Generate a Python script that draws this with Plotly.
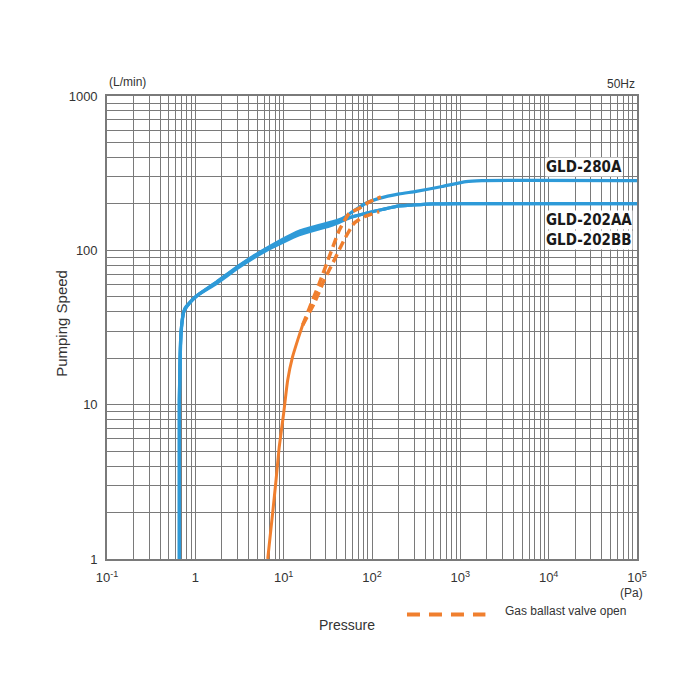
import plotly.graph_objects as go

# Pumping speed (L/min) vs pressure (Pa), 50Hz
p_280a = [0.66, 0.66, 0.69, 0.74, 0.86, 1.03, 1.74, 3.16, 6.4, 15, 35.8, 46.4, 60.2, 85.3, 120.6, 203, 316, 621, 1160, 1760, 100000]
s_280a = [1, 10.7, 30, 40, 45.5, 50.6, 62.3, 80, 103, 133, 153, 161, 178, 202, 217, 232, 241, 259, 279, 283, 283]

p_202aa = [0.66, 0.66, 0.69, 0.74, 0.86, 1.03, 1.74, 3.16, 6.4, 15, 35.8, 55.3, 85.3, 131, 203, 270, 491, 992, 100000]
s_202aa = [1, 10.7, 30, 40, 45.5, 50.6, 61, 78, 100, 126, 146, 162, 174, 184, 194, 196, 200, 201, 201]

p_202bb = [0.66, 0.66, 0.70, 0.76, 0.9, 1.1, 1.8, 3.2, 6.4, 15, 35.8, 55.3, 85.3, 131, 203, 270, 491, 992, 100000]
s_202bb = [1, 10.7, 32, 42, 47, 52, 63, 80, 102, 130, 149, 163, 174, 184, 194, 196, 200, 201, 201]

# gas ballast: common solid part, then two dashed branches
p_gb = [6.6, 7.5, 8.2, 8.9, 10.0, 11.1, 12.6, 14.4, 16.4]
s_gb = [1, 1.98, 3.25, 5.3, 8.8, 14.4, 20.4, 26.2, 32.8]

p_gb_hi = [16.4, 19.5, 25.3, 32.8, 42.6, 55.3, 71.7, 93, 126]
s_gb_hi = [32.8, 42.1, 61.1, 90.9, 135, 174, 187, 206, 222]

p_gb_lo = [16.4, 22.2, 28.8, 37.4, 48.4, 62.9, 81.5, 120.5]
s_gb_lo = [32.8, 45.4, 64.2, 86.5, 117, 150, 165, 178]

x_decades = [-1, 0, 1, 2, 3, 4, 5]
x_labels = ["10<sup>-1</sup>", "1", "10<sup>1</sup>", "10<sup>2</sup>", "10<sup>3</sup>", "10<sup>4</sup>", "10<sup>5</sup>"]
y_decades = [0, 1, 2, 3]
y_labels = ["1", "10", "100", "1000"]

BLUE = "#2e9ad8"
ORANGE = "#f07f2e"
GRID = "#7a7a7a"
FONT = "Liberation Sans, Arial, sans-serif"


def log_grid(decades, labels):
    vals, text = [], []
    for d, lab in zip(decades, labels):
        vals.append(10 ** d)
        text.append(lab)
        if d != decades[-1]:
            for m in range(2, 10):
                vals.append(m * 10 ** d)
                text.append("")
    return vals, text


xv, xt = log_grid(x_decades, x_labels)
yv, yt = log_grid(y_decades, y_labels)

fig = go.Figure()

for p, s in [(p_202bb, s_202bb), (p_202aa, s_202aa), (p_280a, s_280a)]:
    fig.add_trace(go.Scatter(x=p, y=s, mode="lines", line=dict(color=BLUE, width=3.2, shape="spline", smoothing=0.5),
                             showlegend=False))

fig.add_trace(go.Scatter(x=p_gb, y=s_gb, mode="lines", line=dict(color=ORANGE, width=3, shape="spline", smoothing=0.5),
                         showlegend=False))
for p, s in [(p_gb_hi, s_gb_hi), (p_gb_lo, s_gb_lo)]:
    fig.add_trace(go.Scatter(x=p, y=s, mode="lines",
                             line=dict(color=ORANGE, width=3.5, dash="9px,5px", shape="spline", smoothing=0.5),
                             showlegend=False))

fig.update_xaxes(type="log", range=[-1, 5], tickmode="array", tickvals=xv, ticktext=xt,
                 showgrid=True, gridcolor=GRID, gridwidth=1.4, zeroline=False,
                 showline=True, linecolor=GRID, linewidth=1.6, mirror=True,
                 ticks="outside", ticklen=6, tickcolor="rgba(0,0,0,0)",
                 tickfont=dict(family=FONT, size=13, color="#333"))
fig.update_yaxes(type="log", range=[0, 3], tickmode="array", tickvals=yv, ticktext=yt,
                 showgrid=True, gridcolor=GRID, gridwidth=1.4, zeroline=False,
                 showline=True, linecolor=GRID, linewidth=1.6, mirror=True,
                 ticks="outside", ticklen=5, tickcolor="rgba(0,0,0,0)",
                 tickfont=dict(family=FONT, size=13, color="#333"))

fig.add_annotation(text="Pumping Speed", xref="paper", yref="paper", x=-0.085, y=0.51,
                   xanchor="center", yanchor="middle", textangle=-90, showarrow=False,
                   font=dict(family=FONT, size=15, color="#333"))

model_font = dict(family="Liberation Sans Narrow, DejaVu Sans Condensed, Arial Narrow, sans-serif", size=15, color="#1a1a1a")
for txt, yy in [("GLD-280A", 0.8457), ("GLD-202AA", 0.7324), ("GLD-202BB", 0.6881)]:
    fig.add_annotation(text="<b>" + txt + "</b>", xref="paper", yref="paper", x=0.826, y=yy,
                       xanchor="left", yanchor="middle", showarrow=False, font=model_font,
                       bgcolor="white", borderpad=0)

small = dict(family=FONT, size=12, color="#333")
fig.add_annotation(text="(L/min)", xref="paper", yref="paper", x=0.0, y=1.03, xanchor="left",
                   yanchor="middle", showarrow=False, font=small)
fig.add_annotation(text="50Hz", xref="paper", yref="paper", x=1.0, y=1.026, xanchor="right",
                   yanchor="middle", showarrow=False, font=small)
fig.add_annotation(text="(Pa)", xref="paper", yref="paper", x=0.99, y=-0.073, xanchor="center",
                   yanchor="middle", showarrow=False, font=small)
fig.add_annotation(text="Pressure", xref="paper", yref="paper", x=0.452, y=-0.142, xanchor="center",
                   yanchor="middle", showarrow=False, font=dict(family=FONT, size=14, color="#333"))
fig.add_annotation(text="Gas ballast valve open", xref="paper", yref="paper", x=0.748, y=-0.113,
                   xanchor="left", yanchor="middle", showarrow=False, font=small)
fig.add_shape(type="line", xref="paper", yref="paper", x0=0.566, x1=0.714, y0=-0.120, y1=-0.120,
              line=dict(color=ORANGE, width=4, dash="13px,9px"))

fig.update_layout(width=700, height=700, plot_bgcolor="white", paper_bgcolor="white",
                  margin=dict(l=99, r=71, t=88, b=149), showlegend=False)

fig.write_html("out.html")
